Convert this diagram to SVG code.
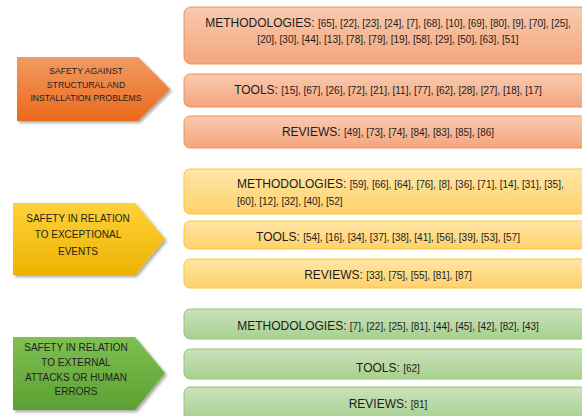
<svg xmlns="http://www.w3.org/2000/svg" width="582" height="416" viewBox="0 0 582 416">
<defs>
<linearGradient id="gOr" x1="0" y1="0" x2="0" y2="1"><stop offset="0" stop-color="#F29A62"/><stop offset="1" stop-color="#E9691B"/></linearGradient>
<linearGradient id="gYe" x1="0" y1="0" x2="0" y2="1"><stop offset="0" stop-color="#FFD13A"/><stop offset="1" stop-color="#EDB300"/></linearGradient>
<linearGradient id="gGr" x1="0" y1="0" x2="0" y2="1"><stop offset="0" stop-color="#7FC052"/><stop offset="1" stop-color="#5C9F31"/></linearGradient>
<linearGradient id="bOr" x1="0" y1="0" x2="0" y2="1"><stop offset="0" stop-color="#F9CAB0"/><stop offset="1" stop-color="#F4A57D"/></linearGradient>
<linearGradient id="bYe" x1="0" y1="0" x2="0" y2="1"><stop offset="0" stop-color="#FFE6A8"/><stop offset="1" stop-color="#FFD16A"/></linearGradient>
<linearGradient id="bGr" x1="0" y1="0" x2="0" y2="1"><stop offset="0" stop-color="#CBE2BC"/><stop offset="1" stop-color="#A8D08F"/></linearGradient>
<filter id="sh" x="-10%" y="-10%" width="130%" height="130%"><feDropShadow dx="2" dy="2" stdDeviation="1.8" flood-color="#000" flood-opacity="0.35"/></filter>
</defs>
<style>
.bo{fill:url(#bOr);stroke:#F19058;stroke-width:1}
.by{fill:url(#bYe);stroke:#FFC62E;stroke-width:1}
.bg{fill:url(#bGr);stroke:#93C474;stroke-width:1}
.lab{font-family:"Liberation Sans",Arial,sans-serif;fill:#1c1c1c}
.big{font-size:12px}
.ref{font-size:10px}
.pt{font-family:"Liberation Sans",Arial,sans-serif;fill:#222;text-anchor:middle}
</style>
<g id="connectors"/>
<g id="cat-structural">
<polygon points="17,57 138,57 170,89 138,121 17,121" fill="url(#gOr)" filter="url(#sh)"/>
<text class="pt" font-size="8.7" x="86" y="74">SAFETY AGAINST</text>
<text class="pt" font-size="8.7" x="86" y="87.5">STRUCTURAL AND</text>
<text class="pt" font-size="8.7" x="86" y="101">INSTALLATION PROBLEMS</text>
</g>
<g id="or-methodologies">
<rect class="bo" x="184" y="7" width="410" height="57" rx="7"/>
<text class="lab" text-anchor="middle" x="388" y="27"><tspan class="big">METHODOLOGIES: </tspan><tspan class="ref">[65], [22], [23], [24], [7], [68], [10], [69], [80], [9], [70], [25],</tspan></text>
<text class="lab ref" text-anchor="middle" x="388" y="43">[20], [30], [44], [13], [78], [79], [19], [58], [29], [50], [63], [51]</text>
</g>
<g id="or-tools">
<rect class="bo" x="184" y="74" width="410" height="33" rx="6"/>
<text class="lab" text-anchor="middle" x="388" y="94"><tspan class="big">TOOLS: </tspan><tspan class="ref">[15], [67], [26], [72], [21], [11], [77], [62], [28], [27], [18], [17]</tspan></text>
</g>
<g id="or-reviews">
<rect class="bo" x="184" y="116" width="410" height="32" rx="6"/>
<text class="lab" text-anchor="middle" x="388" y="136"><tspan class="big">REVIEWS: </tspan><tspan class="ref">[49], [73], [74], [84], [83], [85], [86]</tspan></text>
</g>
<g id="cat-exceptional">
<polygon points="13,203 135,203 165,239 135,275 13,275" fill="url(#gYe)" filter="url(#sh)"/>
<text class="pt" font-size="10" x="78" y="221.5">SAFETY IN RELATION</text>
<text class="pt" font-size="10" x="78" y="238">TO EXCEPTIONAL</text>
<text class="pt" font-size="10" x="78" y="254.5">EVENTS</text>
</g>
<g id="ye-methodologies">
<rect class="by" x="184" y="169" width="410" height="45" rx="6"/>
<text class="lab" x="237" y="188"><tspan class="big">METHODOLOGIES: </tspan><tspan class="ref">[59], [66], [64], [76], [8], [36], [71], [14], [31], [35],</tspan></text>
<text class="lab ref" x="237" y="205">[60], [12], [32], [40], [52]</text>
</g>
<g id="ye-tools">
<rect class="by" x="184" y="221" width="410" height="28" rx="6"/>
<text class="lab" text-anchor="middle" x="388" y="241"><tspan class="big">TOOLS: </tspan><tspan class="ref">[54], [16], [34], [37], [38], [41], [56], [39], [53], [57]</tspan></text>
</g>
<g id="ye-reviews">
<rect class="by" x="184" y="259" width="410" height="29" rx="6"/>
<text class="lab" text-anchor="middle" x="388" y="279"><tspan class="big">REVIEWS: </tspan><tspan class="ref">[33], [75], [55], [81], [87]</tspan></text>
</g>
<g id="cat-external">
<polygon points="13,337 135,337 165,373 135,410 13,410" fill="url(#gGr)" filter="url(#sh)"/>
<text class="pt" font-size="10" x="76" y="350.5">SAFETY IN RELATION</text>
<text class="pt" font-size="10" x="76" y="365.5">TO EXTERNAL</text>
<text class="pt" font-size="10" x="76" y="380.5">ATTACKS OR HUMAN</text>
<text class="pt" font-size="10" x="76" y="395">ERRORS</text>
</g>
<g id="gr-methodologies">
<rect class="bg" x="184" y="309" width="410" height="30" rx="6"/>
<text class="lab" text-anchor="middle" x="388" y="330"><tspan class="big">METHODOLOGIES: </tspan><tspan class="ref">[7], [22], [25], [81], [44], [45], [42], [82], [43]</tspan></text>
</g>
<g id="gr-tools">
<rect class="bg" x="184" y="349" width="410" height="30" rx="6"/>
<text class="lab" text-anchor="middle" x="388" y="372"><tspan class="big">TOOLS: </tspan><tspan class="ref">[62]</tspan></text>
</g>
<g id="gr-reviews">
<rect class="bg" x="184" y="387" width="410" height="34" rx="6"/>
<text class="lab" text-anchor="middle" x="388" y="408"><tspan class="big">REVIEWS: </tspan><tspan class="ref">[81]</tspan></text>
</g>
</svg>
